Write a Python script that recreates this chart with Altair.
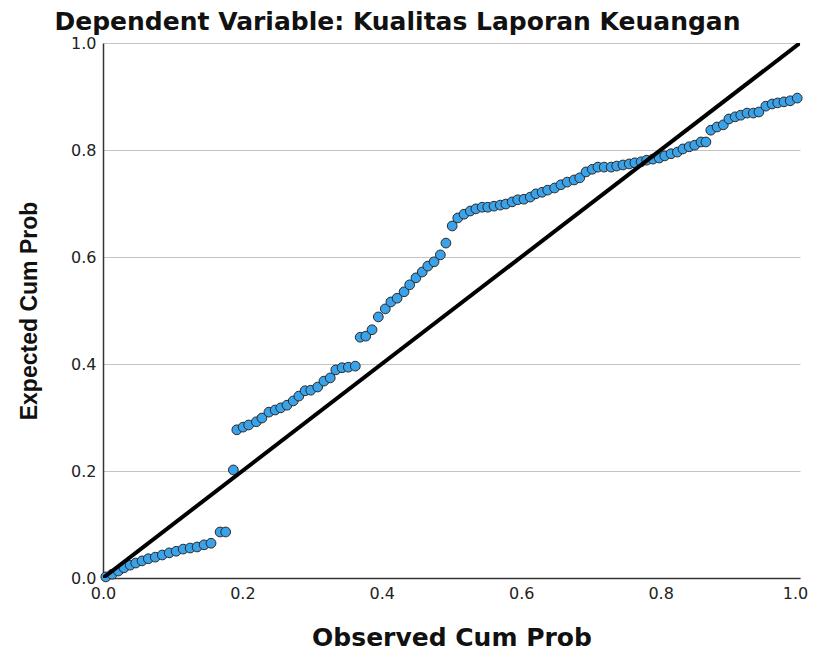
import altair as alt
import pandas as pd

# Observed cumulative probability (x) and expected cumulative probability (y)
observed = [
    0.004, 0.013, 0.022, 0.030, 0.039, 0.047, 0.056, 0.065, 0.075, 0.085,
    0.095, 0.105, 0.115, 0.125, 0.135, 0.145, 0.155, 0.168, 0.176, 0.187,
    0.192, 0.201, 0.209, 0.220, 0.228, 0.238, 0.247, 0.255, 0.264, 0.273,
    0.281, 0.290, 0.298, 0.308, 0.317, 0.326, 0.334, 0.343, 0.352, 0.362,
    0.369, 0.377, 0.386, 0.395, 0.405, 0.413, 0.422, 0.432, 0.440, 0.449,
    0.458, 0.466, 0.475, 0.484, 0.492, 0.501,
    0.509, 0.518, 0.527, 0.535, 0.544, 0.552, 0.561, 0.570, 0.578, 0.587,
    0.595, 0.604, 0.613, 0.621, 0.630, 0.638, 0.648, 0.657, 0.666, 0.676,
    0.684, 0.693, 0.702, 0.710, 0.719, 0.729, 0.737, 0.746, 0.755, 0.763,
    0.772, 0.780, 0.789, 0.798, 0.806, 0.815, 0.824, 0.832, 0.841, 0.849,
    0.858, 0.865,
    0.872, 0.881, 0.890, 0.898, 0.907, 0.915, 0.924, 0.933, 0.941, 0.951,
    0.960, 0.968, 0.977, 0.986, 0.996,
]
expected = [
    0.002, 0.007, 0.013, 0.019, 0.024, 0.028, 0.032, 0.036, 0.039, 0.043,
    0.047, 0.050, 0.054, 0.056, 0.058, 0.062, 0.065, 0.086, 0.086, 0.202,
    0.277, 0.282, 0.286, 0.292, 0.299, 0.310, 0.314, 0.318, 0.323, 0.331,
    0.340, 0.350, 0.351, 0.357, 0.368, 0.374, 0.389, 0.393, 0.394, 0.396,
    0.450, 0.452, 0.464, 0.488, 0.503, 0.516, 0.523, 0.535, 0.548, 0.561,
    0.572, 0.583, 0.591, 0.604, 0.626, 0.658,
    0.673, 0.680, 0.686, 0.690, 0.693, 0.693, 0.695, 0.697, 0.699, 0.703,
    0.707, 0.708, 0.712, 0.718, 0.721, 0.725, 0.729, 0.735, 0.740, 0.744,
    0.748, 0.759, 0.764, 0.768, 0.768, 0.768, 0.770, 0.772, 0.774, 0.776,
    0.778, 0.781, 0.783, 0.785, 0.789, 0.793, 0.796, 0.802, 0.806, 0.809,
    0.815, 0.815,
    0.837, 0.843, 0.847, 0.858, 0.862, 0.865, 0.869, 0.869, 0.871, 0.882,
    0.886, 0.888, 0.890, 0.892, 0.897,
]

diag_x = [0.0, 1.0]
diag_y = [0.0, 1.0]
ticks = [0.0, 0.2, 0.4, 0.6, 0.8, 1.0]

pts = pd.DataFrame({"obs": observed, "exp": expected})
diag = pd.DataFrame({"obs": diag_x, "exp": diag_y})

WIDE = "DejaVu Sans"
FONT = "Liberation Sans"

xscale = alt.Scale(domain=[0, 1], nice=False, zero=False)
yscale = alt.Scale(domain=[0, 1], nice=False, zero=False)

x_axis = alt.Axis(
    values=ticks, format=".1f", grid=False, ticks=False, labelFlush=False,
    labelOffset={"expr": "datum.value == 1 ? -5 : 0"},
    domainColor="#333333", domainWidth=1.5,
    labelFont=WIDE, labelFontSize=16, labelColor="#222222", labelPadding=7,
    title="Observed Cum Prob", titleFont=WIDE, titleFontSize=25,
    titleFontWeight="bold", titleColor="#111111", titlePadding=24,
)
y_axis = alt.Axis(
    values=ticks, format=".1f", grid=True, gridColor="#c4c4c4", gridWidth=1,
    ticks=False, labelFlush=False, domainColor="#333333", domainWidth=1.5,
    labelFont=WIDE, labelFontSize=16, labelColor="#222222", labelPadding=7,
    title="Expected Cum Prob", titleFont=FONT, titleFontSize=23,
    titleFontWeight="bold", titleColor="#111111", titlePadding=29,
)

points = alt.Chart(pts).mark_point(
    filled=True, shape="circle", size=95, fill="#3aa2e8", opacity=1,
    stroke="#2a2a2a", strokeWidth=1,
).encode(
    x=alt.X("obs:Q", scale=xscale, axis=x_axis),
    y=alt.Y("exp:Q", scale=yscale, axis=y_axis),
)

line = alt.Chart(diag).mark_line(color="black", strokeWidth=4, clip=True).encode(
    x=alt.X("obs:Q", scale=xscale),
    y=alt.Y("exp:Q", scale=yscale),
)

chart = alt.layer(points, line).properties(
    width=697,
    height=535,
    title=alt.TitleParams(
        "Dependent Variable: Kualitas Laporan Keuangan",
        font=WIDE, fontSize=25, fontWeight="bold", color="#111111",
        anchor="middle", dx=-54, offset=0,
    ),
    autosize=alt.AutoSizeParams(type="none"),
    padding={"left": 95, "top": 35, "right": 10, "bottom": 72},
).configure_view(stroke=None)

chart.save("out.html", embed_options={"renderer": "svg", "actions": False})
